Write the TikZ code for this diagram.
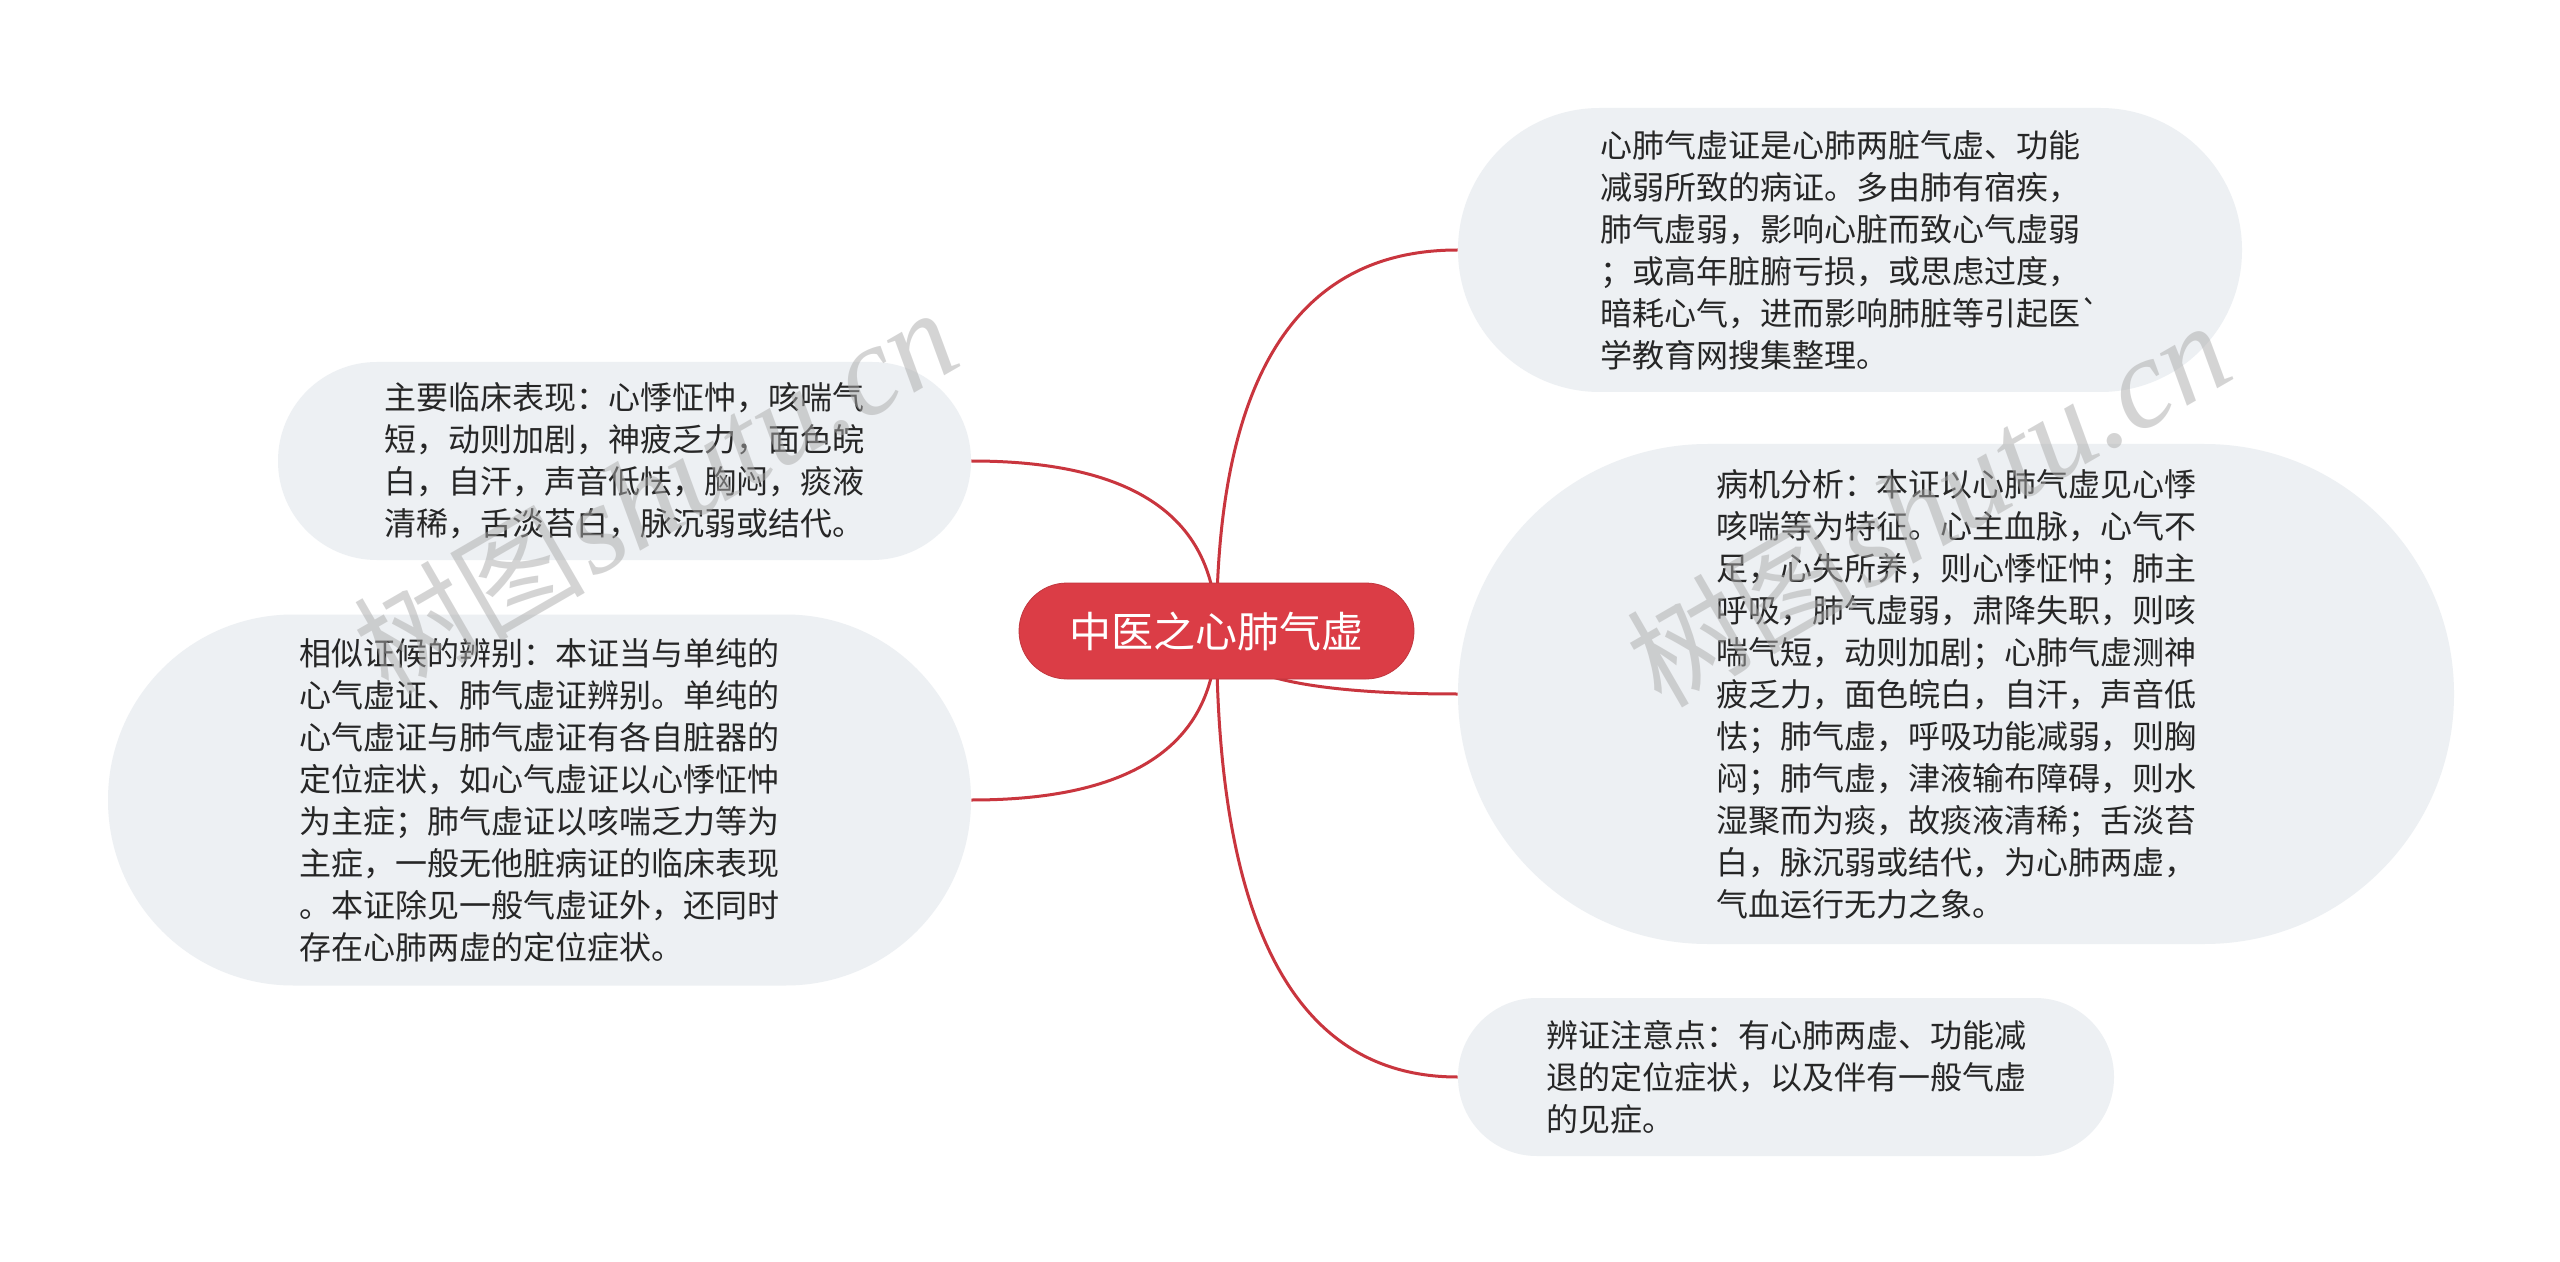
\documentclass[tikz,border=0pt]{standalone}
\usepackage{fontspec}
\setmainfont{Liberation Serif}
\newfontfamily\cjk{Noto Sans CJK SC}[Ligatures=TeXOff]
\usetikzlibrary{calc,backgrounds}
\definecolor{boxfill}{HTML}{EDF0F3}
\definecolor{txt}{HTML}{262626}
\definecolor{hubred}{HTML}{DB3D46}
\definecolor{linkred}{HTML}{C9353E}
\definecolor{wmgray}{HTML}{ABABAB}
\begin{document}
\begin{tikzpicture}[x=0.5pt,y=-0.5pt,
  leaf/.style={fill=boxfill, inner sep=0pt, text=txt, align=left,
    font=\cjk\fontsize{16pt}{21pt}\selectfont},
  hub/.style={fill=hubred, draw=hubred!88!black, line width=0.4pt,
    rounded corners=24pt, minimum width=197.5pt, minimum height=48pt,
    inner sep=0pt, text=white, font=\cjk\fontsize{21pt}{25pt}\selectfont},
  link/.style={draw=linkred, line width=1.5pt},
  wm/.style={text=wmgray, opacity=0.5, rotate=30, inner sep=0pt}]
\useasboundingbox (0,0) rectangle (2560,1262);

\node[hub] (hub) at (1216.5,631) {中医之心肺气虚};

\node[leaf, minimum width=392pt, minimum height=142pt, rounded corners=70.9pt] (A) at (1850,250)
{心肺气虚证是心肺两脏气虚、功能\\
减弱所致的病证。多由肺有宿疾，\\
肺气虚弱，影响心脏而致心气虚弱\\
；或高年脏腑亏损，或思虑过度，\\
暗耗心气，进而影响肺脏等引起医`\\
学教育网搜集整理。};

\node[leaf, minimum width=498pt, minimum height=250pt, rounded corners=124.9pt] (B) at (1956,694)
{病机分析：本证以心肺气虚见心悸\\
咳喘等为特征。心主血脉，心气不\\
足，心失所养，则心悸怔忡；肺主\\
呼吸，肺气虚弱，肃降失职，则咳\\
喘气短，动则加剧；心肺气虚测神\\
疲乏力，面色皖白，自汗，声音低\\
怯；肺气虚，呼吸功能减弱，则胸\\
闷；肺气虚，津液输布障碍，则水\\
湿聚而为痰，故痰液清稀；舌淡苔\\
白，脉沉弱或结代，为心肺两虚，\\
气血运行无力之象。};

\node[leaf, minimum width=328pt, minimum height=79pt, rounded corners=39.4pt] (C) at (1786,1077)
{辨证注意点：有心肺两虚、功能减\\
退的定位症状，以及伴有一般气虚\\
的见症。};

\node[leaf, minimum width=346.5pt, minimum height=99pt, rounded corners=49.4pt] (D) at (624.5,461)
{主要临床表现：心悸怔忡，咳喘气\\
短，动则加剧，神疲乏力，面色皖\\
白，自汗，声音低怯，胸闷，痰液\\
清稀，舌淡苔白，脉沉弱或结代。};

\node[leaf, minimum width=431.5pt, minimum height=185.5pt, rounded corners=92.6pt] (E) at (539.5,800)
{相似证候的辨别：本证当与单纯的\\
心气虚证、肺气虚证辨别。单纯的\\
心气虚证与肺气虚证有各自脏器的\\
定位症状，如心气虚证以心悸怔忡\\
为主症；肺气虚证以咳喘乏力等为\\
主症，一般无他脏病证的临床表现\\
。本证除见一般气虚证外，还同时\\
存在心肺两虚的定位症状。};

\begin{scope}[on background layer]
\fill[white] (0,0) rectangle (2560,1262);
\foreach \t/\a in {A/west,B/west,C/west,D/east,E/east}{
  \draw[link] (hub.center) .. controls ($(hub.center)!2/3!(hub.center|-\t.\a)$)
     and ($(\t.\a)!2/3!(hub.center|-\t.\a)$) .. (\t.\a);
}
\end{scope}

\node[wm] (wmL) at (655,492) {{\cjk\fontsize{58pt}{64pt}\selectfont 树图} {\fontsize{64pt}{70pt}\selectfont\itshape shutu.cn}};
\node[wm] (wmR) at (1928,505) {{\cjk\fontsize{58pt}{64pt}\selectfont 树图} {\fontsize{64pt}{70pt}\selectfont\itshape shutu.cn}};
\end{tikzpicture}
\end{document}
